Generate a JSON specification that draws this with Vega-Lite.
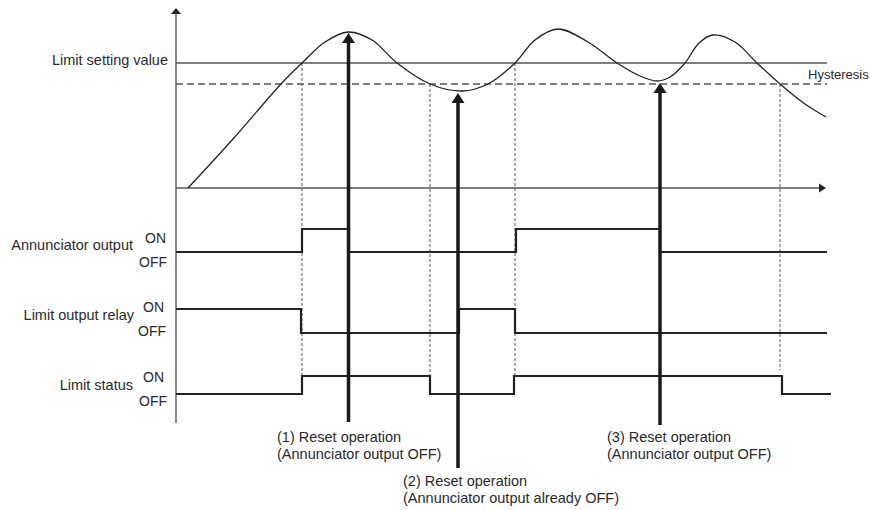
{
  "$schema": "https://vega.github.io/schema/vega-lite/v6.json",
  "width": 870,
  "height": 510,
  "padding": 0,
  "autosize": {"type": "fit", "contains": "padding"},
  "background": "white",
  "config": {"view": {"stroke": null}, "text": {"font": "Liberation Sans"}},
  "encoding": {
    "x": {"field": "x", "type": "quantitative", "scale": {"domain": [0, 870], "nice": false, "zero": false}, "axis": null},
    "y": {"field": "y", "type": "quantitative", "scale": {"domain": [0, 510], "reverse": true, "nice": false, "zero": false}, "axis": null}
  },
  "layer": [
    {
      "data": {"values": [
        {"name": "limit", "x": 176, "x2": 827, "y": 63, "y2": 63},
        {"name": "time axis", "x": 176, "x2": 819, "y": 188, "y2": 188},
        {"name": "value axis", "x": 176, "x2": 176, "y": 13, "y2": 423}
      ]},
      "mark": {"type": "rule", "color": "#555555", "strokeWidth": 1.4},
      "encoding": {"x2": {"field": "x2"}, "y2": {"field": "y2"}}
    },
    {
      "data": {"values": [
        {"name": "hysteresis", "x": 176, "x2": 827, "y": 84, "y2": 84}
      ]},
      "mark": {"type": "rule", "color": "#555555", "strokeWidth": 1.3, "strokeDash": [7, 4]},
      "encoding": {"x2": {"field": "x2"}, "y2": {"field": "y2"}}
    },
    {
      "data": {"values": [
        {"x": 302, "y": 63, "y2": 376},
        {"x": 430, "y": 84, "y2": 376},
        {"x": 515, "y": 63, "y2": 376},
        {"x": 780, "y": 84, "y2": 370}
      ]},
      "mark": {"type": "rule", "color": "#555555", "strokeWidth": 1, "strokeDash": [3, 2]},
      "encoding": {"y2": {"field": "y2"}}
    },
    {
      "data": {"values": [
        {"x": 188, "y": 188}, {"x": 233, "y": 139}, {"x": 281, "y": 84}, {"x": 302, "y": 63},
        {"x": 325, "y": 42}, {"x": 348, "y": 32}, {"x": 372, "y": 40}, {"x": 397, "y": 63},
        {"x": 430, "y": 84}, {"x": 462, "y": 91}, {"x": 488, "y": 84}, {"x": 515, "y": 63},
        {"x": 535, "y": 40}, {"x": 558, "y": 29}, {"x": 588, "y": 42}, {"x": 617, "y": 63},
        {"x": 640, "y": 76}, {"x": 657, "y": 81}, {"x": 670, "y": 77}, {"x": 685, "y": 63},
        {"x": 699, "y": 43}, {"x": 713, "y": 35}, {"x": 735, "y": 42}, {"x": 757, "y": 63},
        {"x": 780, "y": 84}, {"x": 805, "y": 104}, {"x": 826, "y": 117}
      ]},
      "mark": {"type": "line", "interpolate": "catmull-rom", "color": "#222222", "strokeWidth": 1.3}
    },
    {
      "data": {"values": [
        {"signal": "Annunciator output", "x": 176, "y": 252},
        {"signal": "Annunciator output", "x": 302, "y": 229},
        {"signal": "Annunciator output", "x": 349, "y": 252},
        {"signal": "Annunciator output", "x": 516, "y": 229},
        {"signal": "Annunciator output", "x": 660, "y": 252},
        {"signal": "Annunciator output", "x": 827, "y": 252},
        {"signal": "Limit output relay", "x": 176, "y": 309},
        {"signal": "Limit output relay", "x": 301, "y": 333},
        {"signal": "Limit output relay", "x": 459, "y": 309},
        {"signal": "Limit output relay", "x": 515, "y": 333},
        {"signal": "Limit output relay", "x": 827, "y": 333},
        {"signal": "Limit status", "x": 176, "y": 394},
        {"signal": "Limit status", "x": 302, "y": 376},
        {"signal": "Limit status", "x": 430, "y": 394},
        {"signal": "Limit status", "x": 514, "y": 376},
        {"signal": "Limit status", "x": 782, "y": 394},
        {"signal": "Limit status", "x": 831, "y": 394}
      ]},
      "mark": {"type": "line", "interpolate": "step-after", "color": "#222222", "strokeWidth": 2.2},
      "encoding": {"detail": {"field": "signal"}}
    },
    {
      "data": {"values": [
        {"reset": 1, "x": 348.5, "y": 40, "y2": 422},
        {"reset": 2, "x": 458, "y": 100, "y2": 468},
        {"reset": 3, "x": 660, "y": 90, "y2": 425}
      ]},
      "mark": {"type": "rule", "color": "#1a1a1a", "strokeWidth": 3.5},
      "encoding": {"y2": {"field": "y2"}}
    },
    {
      "data": {"values": [
        {"reset": 1, "x": 348.5, "y": 33},
        {"reset": 2, "x": 458, "y": 93},
        {"reset": 3, "x": 660, "y": 83}
      ]},
      "mark": {"type": "point", "shape": "M-1,0.77L0,-0.77L1,0.77Z", "size": 169, "filled": true, "opacity": 1, "color": "#1a1a1a", "strokeWidth": 0, "yOffset": 5}
    },
    {
      "data": {"values": [{"x": 176, "y": 8}]},
      "mark": {"type": "point", "shape": "M-1,0.6L0,-0.6L1,0.6Z", "size": 100, "filled": true, "opacity": 1, "color": "#222222", "strokeWidth": 0, "yOffset": 3}
    },
    {
      "data": {"values": [{"x": 826, "y": 188}]},
      "mark": {"type": "point", "shape": "M-0.78,-1L0.78,0L-0.78,1Z", "size": 81, "filled": true, "opacity": 1, "color": "#222222", "strokeWidth": 0, "xOffset": -3.5}
    },
    {
      "data": {"values": [
        {"label": "Limit setting value", "x": 168, "y": 61},
        {"label": "Annunciator output", "x": 133, "y": 246},
        {"label": "Limit output relay", "x": 134, "y": 316},
        {"label": "Limit status", "x": 133, "y": 386}
      ]},
      "mark": {"type": "text", "align": "right", "baseline": "middle", "fontSize": 14.5, "color": "#2a2a2a"},
      "encoding": {"text": {"field": "label"}}
    },
    {
      "data": {"values": [
        {"label": "ON", "x": 166, "y": 239},
        {"label": "OFF", "x": 167, "y": 263},
        {"label": "ON", "x": 164, "y": 307.5},
        {"label": "OFF", "x": 166, "y": 331.5},
        {"label": "ON", "x": 164, "y": 377.5},
        {"label": "OFF", "x": 167, "y": 401.5}
      ]},
      "mark": {"type": "text", "align": "right", "baseline": "middle", "fontSize": 14, "color": "#2a2a2a"},
      "encoding": {"text": {"field": "label"}}
    },
    {
      "data": {"values": [
        {"label": "Hysteresis", "x": 808, "y": 75}
      ]},
      "mark": {"type": "text", "align": "left", "baseline": "middle", "fontSize": 13, "color": "#2a2a2a"},
      "encoding": {"text": {"field": "label"}}
    },
    {
      "data": {"values": [
        {"label": "(1) Reset operation", "x": 277, "y": 438},
        {"label": "(Annunciator output OFF)", "x": 277, "y": 455},
        {"label": "(2) Reset operation", "x": 403, "y": 482},
        {"label": "(Annunciator output already OFF)", "x": 403, "y": 499},
        {"label": "(3) Reset operation", "x": 607, "y": 438},
        {"label": "(Annunciator output OFF)", "x": 607, "y": 455}
      ]},
      "mark": {"type": "text", "align": "left", "baseline": "middle", "fontSize": 14.5, "color": "#2a2a2a"},
      "encoding": {"text": {"field": "label"}}
    }
  ]
}
